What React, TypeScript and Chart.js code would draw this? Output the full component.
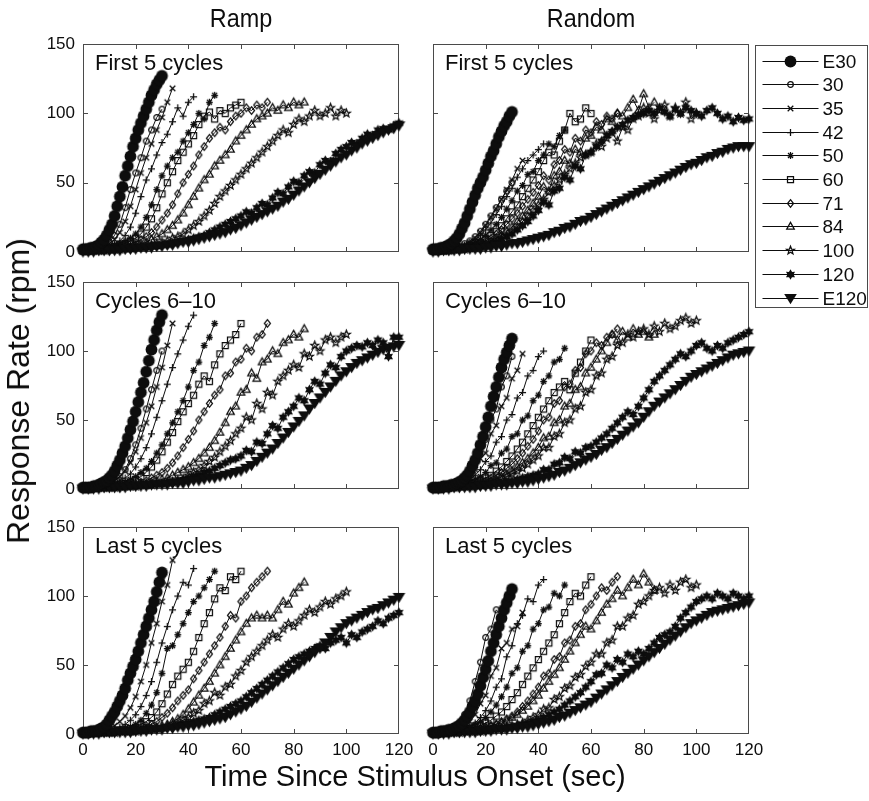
import React, { useEffect, useRef } from 'react';
import { Chart, registerables } from 'chart.js';

Chart.register(...registerables);

// ---------- labels / ticks ----------
const SERIES_LABELS = ['E30', '30', '35', '42', '50', '60', '71', '84', '100', '120', 'E120'];
const MARKERS = ['bigCircle', 'circle', 'x', 'plus', 'asterisk', 'square', 'diamond', 'triangle', 'pentagram', 'hexagram', 'bigTriangleDown'];
const TIME_STEPS = [1, 2, 2, 2, 2, 2, 2, 2, 2, 2, 2]; // seconds between bins
const X_TICKS = [0, 20, 40, 60, 80, 100, 120];
const Y_TICKS = [0, 50, 100, 150];
const COLUMN_TITLES = ['Ramp', 'Random'];
const PANEL_LABELS = ['First 5 cycles', 'Cycles 6–10', 'Last 5 cycles'];
const X_TITLE = 'Time Since Stimulus Onset (sec)';
const Y_TITLE = 'Response Rate (rpm)';

// ---------- Ramp, first 5 cycles ----------
const rfE30 = [2,2,2,3,3,4,5,7,9,12,16,20,26,33,40,47,55,62,69,76,82,88,93,98,103,108,113,117,121,124,127];
const rf30 = [1,2,2,3,5,7,12,20,32,45,57,68,80,88,97,103];
const rf35 = [1,1,2,3,4,6,9,14,22,33,45,57,68,78,88,97,108,118];
const rf42 = [1,1,2,2,3,4,6,8,12,18,28,40,52,60,70,79,85,94,104,98,108,112];
const rf50 = [1,1,2,2,3,4,5,6,8,10,13,18,25,34,45,55,62,68,72,80,86,92,100,96,108,113];
const rf60 = [1,1,2,2,3,3,4,5,6,8,10,13,18,24,32,42,50,58,66,72,78,84,92,98,101,96,102,100,104,106,108];
const rf71 = [1,1,1,2,2,3,3,4,5,6,7,9,11,14,18,23,28,34,42,50,56,62,70,76,82,86,90,88,94,98,100,104,102,106,104,108];
const rf84 = [1,1,1,1,2,2,3,3,4,4,5,6,7,9,11,13,16,19,23,28,34,40,46,52,56,62,66,70,74,80,84,88,92,96,98,100,104,102,106,104,108,106,108];
const rf100 = [1,1,1,1,1,2,2,2,3,3,4,4,5,5,6,7,8,10,11,13,16,19,22,26,30,35,40,44,48,52,56,60,64,68,72,76,80,84,88,86,92,96,94,98,102,98,100,104,98,102,100];
const rf120 = [1,1,1,1,1,1,2,2,2,2,3,3,3,4,4,5,5,6,7,8,9,10,11,12,14,16,18,20,22,24,26,29,28,32,35,34,39,43,42,47,51,50,55,58,57,63,66,65,71,74,76,79,78,82,85,84,88,89,88,91,93];
const rfE120 = [0,0,0,1,1,1,1,1,2,2,2,3,3,3,4,4,5,5,6,7,7,8,9,10,11,12,13,14,16,17,19,21,23,25,27,29,31,33,36,38,41,44,47,50,53,56,59,62,65,68,70,73,75,78,80,82,84,86,88,89,91];

// ---------- Random, first 5 cycles ----------
const xfE30 = [2,2,2,3,3,4,5,6,8,10,13,17,21,26,31,36,41,46,50,54,59,64,69,73,78,83,87,91,94,98,101];
const xf30 = [1,1,2,2,3,4,6,8,11,15,20,26,32,38,44,50];
const xf35 = [1,1,2,2,3,4,5,7,10,14,19,25,31,38,45,52,60,66];
const xf42 = [1,1,2,2,3,4,5,7,9,12,16,21,27,33,40,46,54,60,66,70,74,78];
const xf50 = [1,1,1,2,2,3,4,5,7,9,12,16,20,25,31,37,44,48,56,58,66,70,78,76,84,88];
const xf60 = [1,1,1,2,2,3,3,4,5,7,9,12,15,19,24,29,34,40,46,52,58,66,72,70,80,88,100,94,96,104,100];
const xf71 = [1,1,1,2,2,3,3,4,5,6,8,10,13,16,20,24,28,33,38,43,48,55,52,63,66,74,72,82,80,88,86,94,92,98,96,100];
const xf84 = [1,1,1,1,2,2,3,3,4,5,6,8,10,12,15,18,22,26,30,35,40,47,44,55,58,66,64,74,72,82,84,90,88,96,94,100,98,104,110,102,114,104,108];
const xf100 = [1,1,1,1,2,2,2,3,3,4,5,6,8,10,12,15,18,22,26,30,34,38,43,48,52,56,60,64,68,70,72,78,76,82,86,80,90,88,96,98,104,100,96,102,106,98,104,100,108,96,100];
const xf120 = [1,1,1,1,2,2,2,3,3,4,5,6,7,9,11,13,16,19,22,26,30,36,34,44,46,54,52,62,60,70,72,76,80,84,87,90,92,95,97,99,100,102,100,104,101,98,103,100,104,102,100,98,102,104,100,96,98,94,97,95,96];
const xfE120 = [0,0,1,1,1,1,2,2,2,2,3,3,4,4,5,6,6,7,8,9,10,11,12,14,15,17,18,20,22,23,25,27,29,31,33,35,37,39,41,43,45,47,49,51,53,55,57,59,61,63,64,66,68,69,71,72,74,75,76,76,76];

// ---------- Ramp, cycles 6-10 ----------
const rmE30 = [1,1,1,1,2,2,3,4,5,6,8,10,13,17,21,26,31,37,43,49,56,63,70,77,85,93,101,108,115,121,126];
const rm30 = [1,1,1,2,3,4,6,9,14,22,32,44,58,72,86,100];
const rm35 = [1,1,1,2,3,4,6,9,13,19,27,37,48,60,74,88,104,120];
const rm42 = [1,1,1,2,2,3,4,6,8,11,16,22,30,40,52,64,76,88,98,108,118,126];
const rm50 = [1,1,1,1,2,2,3,4,5,7,9,12,15,20,26,32,40,48,56,64,74,86,92,104,110,120];
const rm60 = [1,1,1,1,2,2,3,3,4,5,7,9,12,16,21,27,34,41,49,56,62,68,76,82,78,90,98,104,108,112,120];
const rm71 = [1,1,1,1,1,2,2,2,3,3,4,5,6,8,10,12,15,19,24,30,36,42,50,56,62,68,72,82,84,92,94,102,100,110,112,120];
const rm84 = [1,1,1,1,1,1,2,2,2,3,3,4,4,5,6,7,8,10,12,14,16,19,22,26,30,35,41,48,56,60,70,72,84,80,92,94,100,98,106,108,112,110,116];
const rm100 = [1,1,1,1,1,1,1,2,2,2,2,3,3,3,4,4,5,5,6,7,10,12,14,17,20,23,27,31,35,40,44,52,50,62,58,70,68,78,82,86,90,88,98,96,104,100,108,110,106,110,112];
const rm120 = [1,1,1,1,1,1,1,1,2,2,2,3,3,3,4,4,5,5,6,7,8,9,10,12,13,15,17,19,21,22,24,28,27,34,33,40,46,44,52,56,60,66,64,72,78,76,84,90,88,96,100,102,104,103,106,104,108,106,96,110,110];
const rmE120 = [0,0,0,0,1,1,1,1,1,2,2,2,2,3,3,3,3,4,4,4,5,6,6,7,8,8,9,10,11,12,13,15,17,20,23,26,29,33,37,41,45,49,53,58,62,66,70,74,78,82,85,88,91,93,95,97,99,101,102,103,104];

// ---------- Random, cycles 6-10 ----------
const xmE30 = [1,1,1,1,2,2,2,3,3,4,5,6,8,10,13,17,21,26,32,38,45,52,60,67,74,81,88,94,99,104,109];
const xm30 = [1,1,2,3,4,6,9,14,20,30,36,50,58,74,82,96];
const xm35 = [1,1,2,2,3,5,7,10,14,22,26,40,46,60,66,80,86,98];
const xm42 = [1,1,1,2,2,3,5,7,10,14,20,24,34,38,50,54,66,70,82,86,96,100];
const xm50 = [1,1,1,2,2,3,4,5,7,9,12,17,19,26,29,38,40,50,53,64,68,78,82,92,94,102];
const xm60 = [1,1,1,2,2,3,3,4,5,6,8,10,13,16,20,24,29,34,40,46,52,58,64,70,74,78,72,84,92,100,108];
const xm71 = [1,1,1,2,2,2,3,3,4,5,6,8,10,12,15,18,22,26,31,36,42,50,52,62,64,74,76,86,88,98,100,106,104,110,112,116];
const xm84 = [1,1,1,1,2,2,2,3,3,4,5,6,7,9,11,13,16,19,22,26,30,37,38,48,50,60,62,72,74,84,88,94,100,106,112,108,114,110,116,112,114,110,112];
const xm100 = [1,1,1,1,1,2,2,2,3,3,4,5,6,7,9,11,13,15,18,21,24,30,30,38,40,48,50,58,60,70,72,82,84,94,96,104,106,112,110,114,116,112,118,114,120,116,118,122,124,120,122];
const xm120 = [1,1,1,1,1,1,2,2,2,2,3,3,4,4,5,6,7,8,9,10,11,14,14,18,19,23,22,27,26,30,31,34,37,40,44,48,52,56,54,60,66,72,78,82,86,90,94,98,96,100,104,106,102,100,104,102,106,108,110,112,114];
const xmE120 = [0,0,0,0,1,1,1,1,1,2,2,2,3,3,3,4,4,5,5,6,7,8,9,10,12,13,15,17,19,21,23,25,28,30,33,36,39,42,45,48,52,56,60,63,66,69,72,75,78,81,83,85,87,89,91,93,95,97,98,99,100];

// ---------- Ramp, last 5 cycles ----------
const rlE30 = [1,1,1,2,2,2,3,4,5,7,10,13,16,20,24,28,33,39,44,49,54,60,66,72,78,84,90,96,103,110,117];
const rl30 = [1,1,2,3,5,8,14,22,32,44,56,68,80,92,104,114];
const rl35 = [1,1,1,2,3,4,6,9,13,19,27,38,50,66,80,96,108,126];
const rl42 = [1,1,1,2,2,3,4,5,7,10,14,20,28,38,52,66,78,90,100,110,108,120];
const rl50 = [1,1,1,1,2,2,3,3,4,5,7,10,15,21,30,44,62,64,72,80,88,96,100,106,112,118];
const rl60 = [1,1,1,1,2,2,2,3,3,4,5,7,9,12,16,22,29,36,42,47,52,60,70,80,88,98,106,104,114,112,118];
const rl71 = [1,1,1,1,1,2,2,2,3,3,4,5,6,7,9,12,15,19,24,28,32,40,46,52,58,64,70,78,86,84,96,100,106,110,114,118];
const rl84 = [1,1,1,1,1,1,2,2,2,2,3,3,4,4,5,6,7,9,11,14,18,23,28,33,38,44,50,56,62,68,74,80,84,86,84,86,84,90,96,94,102,106,110];
const rl100 = [1,1,1,1,1,1,1,2,2,2,2,3,3,4,4,5,6,7,8,10,12,15,17,22,24,30,28,34,36,42,46,52,56,60,64,68,72,70,76,80,78,82,86,90,88,92,96,94,98,100,103];
const rl120 = [1,1,1,1,1,1,1,2,2,2,2,3,3,3,4,4,5,5,6,7,8,9,10,11,12,14,16,18,20,22,24,27,30,33,36,39,42,45,48,51,54,56,58,60,62,64,62,66,68,70,66,72,70,74,76,78,82,80,84,86,88];
const rlE120 = [0,0,0,0,1,1,1,1,1,1,2,2,2,3,3,3,4,4,5,5,6,6,7,8,9,10,11,12,14,16,18,20,23,26,29,32,35,38,41,44,47,50,53,56,59,62,66,70,74,77,80,82,84,86,88,90,91,93,95,97,99];

// ---------- Random, last 5 cycles ----------
const xlE30 = [1,1,1,2,2,2,3,3,4,5,6,8,10,13,16,20,24,29,35,41,47,53,60,66,72,78,84,90,95,100,105];
const xl30 = [1,1,2,3,5,8,14,24,38,52,70,76,90,86,98,100];
const xl35 = [1,1,2,2,3,4,6,9,14,22,28,42,48,62,66,76,78,88];
const xl42 = [1,1,1,2,2,3,4,6,8,12,17,24,34,40,56,64,80,86,98,96,108,112];
const xl50 = [1,1,1,2,2,3,4,5,7,9,12,16,21,27,34,44,48,60,64,76,80,90,92,102,100,108];
const xl60 = [1,1,1,2,2,3,3,4,5,6,8,10,13,16,20,25,30,36,42,48,54,60,66,72,80,88,96,102,100,108,114];
const xl71 = [1,1,1,1,2,2,2,3,3,4,5,6,7,9,11,13,16,20,24,29,34,42,44,54,56,66,68,78,80,90,94,100,106,104,110,114];
const xl84 = [1,1,1,1,2,2,2,3,3,4,5,6,7,8,10,12,14,17,20,24,28,33,38,43,48,54,60,66,72,78,76,82,88,94,98,104,100,106,112,108,116,110,104];
const xl100 = [1,1,1,1,1,1,2,2,2,2,3,3,4,4,5,6,7,8,10,12,14,18,19,25,27,33,35,41,43,49,52,58,58,66,68,78,78,84,86,94,96,100,104,106,102,108,104,110,112,106,108];
const xl120 = [1,1,1,1,1,1,2,2,2,2,3,3,4,4,5,5,6,7,8,9,10,12,14,16,18,21,24,27,30,34,38,43,44,50,48,54,52,58,56,60,58,62,66,70,72,74,78,84,88,92,96,98,100,98,102,100,98,102,100,98,100];
const xlE120 = [0,0,0,0,1,1,1,1,1,2,2,2,3,3,3,4,4,5,5,6,7,8,9,10,12,13,15,17,19,21,23,26,29,32,35,38,41,44,47,50,53,56,59,62,65,68,71,74,77,80,82,84,86,88,89,90,91,92,93,94,95];

const rampFirst = [rfE30, rf30, rf35, rf42, rf50, rf60, rf71, rf84, rf100, rf120, rfE120];
const randomFirst = [xfE30, xf30, xf35, xf42, xf50, xf60, xf71, xf84, xf100, xf120, xfE120];
const rampMiddle = [rmE30, rm30, rm35, rm42, rm50, rm60, rm71, rm84, rm100, rm120, rmE120];
const randomMiddle = [xmE30, xm30, xm35, xm42, xm50, xm60, xm71, xm84, xm100, xm120, xmE120];
const rampLast = [rlE30, rl30, rl35, rl42, rl50, rl60, rl71, rl84, rl100, rl120, rlE120];
const randomLast = [xlE30, xl30, xl35, xl42, xl50, xl60, xl71, xl84, xl100, xl120, xlE120];

const PANELS = [
  { row: 0, col: 0, series: rampFirst },
  { row: 0, col: 1, series: randomFirst },
  { row: 1, col: 0, series: rampMiddle },
  { row: 1, col: 1, series: randomMiddle },
  { row: 2, col: 0, series: rampLast },
  { row: 2, col: 1, series: randomLast },
];

// ---------- layout / style ----------
const FONT = '"Liberation Sans", Arial, Helvetica, sans-serif';
const INK = '#0d0d0d';
const FRAME = '#4a4a4a';
const COL_LEFT = [83, 433];
const PLOT_W = 316;
const ROW_TOP = [44, 282, 527];
const PLOT_H = [208, 207, 207];
const Y_AXIS_W = [83, 30];
const PAD_TOP = 12;
const X_AXIS_H = [25, 25, 45];
const LEGEND_SPACE = 120;

function geom(row: number, col: number) {
  const isLegendHost = row === 0 && col === 1;
  const padRight = isLegendHost ? LEGEND_SPACE : 22;
  const padBottom = isLegendHost ? 45 : 0;
  const left = COL_LEFT[col] - Y_AXIS_W[col];
  const top = ROW_TOP[row] - PAD_TOP;
  const w = Y_AXIS_W[col] + PLOT_W + padRight;
  const h = PAD_TOP + PLOT_H[row] + X_AXIS_H[row] + padBottom;
  return { left, top, w, h, padRight, padBottom };
}

function starPath(g: CanvasRenderingContext2D, cx: number, cy: number, n: number, ro: number, ri: number) {
  for (let k = 0; k < n * 2; k++) {
    const r = k % 2 === 0 ? ro : ri;
    const a = -Math.PI / 2 + (k * Math.PI) / n;
    const px = cx + r * Math.cos(a);
    const py = cy + r * Math.sin(a);
    if (k === 0) g.moveTo(px, py); else g.lineTo(px, py);
  }
  g.closePath();
}

function drawMarker(g: CanvasRenderingContext2D, kind: string, cx: number, cy: number) {
  g.strokeStyle = INK;
  g.fillStyle = INK;
  g.lineWidth = 1.25;
  g.beginPath();
  switch (kind) {
    case 'bigCircle':
      g.arc(cx, cy, 5.9, 0, Math.PI * 2); g.fill(); break;
    case 'circle':
      g.arc(cx, cy, 2.8, 0, Math.PI * 2); g.stroke(); break;
    case 'x':
      g.moveTo(cx - 2.8, cy - 2.8); g.lineTo(cx + 2.8, cy + 2.8);
      g.moveTo(cx + 2.8, cy - 2.8); g.lineTo(cx - 2.8, cy + 2.8); g.stroke(); break;
    case 'plus':
      g.moveTo(cx - 3.5, cy); g.lineTo(cx + 3.5, cy);
      g.moveTo(cx, cy - 3.5); g.lineTo(cx, cy + 3.5); g.stroke(); break;
    case 'asterisk':
      g.moveTo(cx - 3.4, cy); g.lineTo(cx + 3.4, cy);
      g.moveTo(cx, cy - 3.4); g.lineTo(cx, cy + 3.4);
      g.moveTo(cx - 2.5, cy - 2.5); g.lineTo(cx + 2.5, cy + 2.5);
      g.moveTo(cx + 2.5, cy - 2.5); g.lineTo(cx - 2.5, cy + 2.5); g.stroke(); break;
    case 'square':
      g.rect(cx - 3, cy - 3, 6, 6); g.stroke(); break;
    case 'diamond':
      g.moveTo(cx, cy - 3.8); g.lineTo(cx + 3, cy); g.lineTo(cx, cy + 3.8); g.lineTo(cx - 3, cy); g.closePath(); g.stroke(); break;
    case 'triangle':
      g.moveTo(cx, cy - 4.1); g.lineTo(cx + 3.8, cy + 2.7); g.lineTo(cx - 3.8, cy + 2.7); g.closePath(); g.stroke(); break;
    case 'pentagram':
      starPath(g, cx, cy, 5, 4.2, 1.8); g.stroke(); break;
    case 'hexagram':
      starPath(g, cx, cy, 6, 4.0, 2.3); g.fill(); g.stroke(); break;
    case 'bigTriangleDown':
      g.moveTo(cx - 6.3, cy - 4.6); g.lineTo(cx + 6.3, cy - 4.6); g.lineTo(cx, cy + 5.8); g.closePath(); g.fill(); break;
  }
}

function makeMarker(kind: string): HTMLCanvasElement {
  const c = document.createElement('canvas');
  c.width = 15; c.height = 15;
  const g = c.getContext('2d');
  if (g) drawMarker(g, kind, 7.5, 7.5);
  return c;
}

function zeroPadding(s: any) {
  s.paddingLeft = 0;
  s.paddingRight = 0;
  s.paddingTop = 0;
  s.paddingBottom = 0;
}

export default function App() {
  const refs = useRef<(HTMLCanvasElement | null)[]>([]);

  useEffect(() => {
    const markers = MARKERS.map(makeMarker);
    const charts = PANELS.map((p, i) => {
      const canvas = refs.current[i] as HTMLCanvasElement;
      const g = geom(p.row, p.col);
      const label = PANEL_LABELS[p.row];
      const showLegend = p.row === 0 && p.col === 1;

      const framePlugin = {
        id: 'panelFrame',
        beforeDatasetsDraw(chart: any) {
          const { ctx, chartArea: a, scales } = chart;
          ctx.save();
          ctx.strokeStyle = FRAME;
          ctx.lineWidth = 1;
          ctx.strokeRect(a.left + 0.5, a.top + 0.5, a.right - a.left - 1, a.bottom - a.top - 1);
          const tl = 5;
          ctx.beginPath();
          X_TICKS.slice(1, -1).forEach((v) => {
            const x = Math.round(scales.x.getPixelForValue(v)) + 0.5;
            ctx.moveTo(x, a.bottom); ctx.lineTo(x, a.bottom - tl);
            ctx.moveTo(x, a.top); ctx.lineTo(x, a.top + tl);
          });
          Y_TICKS.slice(1, -1).forEach((v) => {
            const y = Math.round(scales.y.getPixelForValue(v)) + 0.5;
            ctx.moveTo(a.left, y); ctx.lineTo(a.left + tl, y);
            ctx.moveTo(a.right, y); ctx.lineTo(a.right - tl, y);
          });
          ctx.stroke();
          ctx.restore();
        },
        afterDatasetsDraw(chart: any) {
          const { ctx, chartArea: a } = chart;
          ctx.save();
          ctx.font = `22px ${FONT}`;
          ctx.fillStyle = INK;
          ctx.textBaseline = 'alphabetic';
          ctx.textAlign = 'left';
          ctx.fillText(label, a.left + 12, a.top + 26);
          ctx.restore();
        },
      };

      const legendPlugin = {
        id: 'boxLegend',
        afterDraw(chart: any) {
          if (!showLegend) return;
          const { ctx, chartArea: a } = chart;
          const left = a.right + 6.5;
          const top = a.top + 1.5;
          const w = 112;
          const h = 262;
          ctx.save();
          ctx.fillStyle = '#fff';
          ctx.fillRect(left, top, w, h);
          ctx.strokeStyle = FRAME;
          ctx.lineWidth = 1;
          ctx.strokeRect(left, top, w, h);
          ctx.font = `19px ${FONT}`;
          ctx.textBaseline = 'middle';
          ctx.textAlign = 'left';
          SERIES_LABELS.forEach((lab, k) => {
            const y = Math.round(top + 15 + k * 23.7) + 0.5;
            ctx.beginPath();
            ctx.strokeStyle = INK;
            ctx.lineWidth = 1;
            ctx.moveTo(left + 7, y);
            ctx.lineTo(left + 63, y);
            ctx.stroke();
            const m = markers[k];
            ctx.drawImage(m, left + 35 - m.width / 2, y - m.height / 2);
            ctx.fillStyle = INK;
            ctx.fillText(lab, left + 67, y + 1);
          });
          ctx.restore();
        },
      };

      const datasets = p.series.map((vals, k) => ({
        label: SERIES_LABELS[k],
        data: vals.map((v, j) => ({ x: j * TIME_STEPS[k], y: v })),
        borderColor: INK,
        borderWidth: 1,
        pointStyle: markers[k],
        pointRadius: 3,
        pointHoverRadius: 3,
        tension: 0,
        fill: false,
        clip: false,
        order: k === 0 || k === SERIES_LABELS.length - 1 ? 0 : 1,
      }));

      const tickFont = { family: FONT, size: 17 };

      return new Chart(canvas, {
        type: 'line',
        data: { datasets },
        options: {
          responsive: false,
          maintainAspectRatio: false,
          animation: false,
          devicePixelRatio: 1,
          events: [],
          layout: { padding: { top: PAD_TOP, right: g.padRight, left: 0, bottom: g.padBottom } },
          plugins: { legend: { display: false }, tooltip: { enabled: false }, title: { display: false } },
          scales: {
            x: {
              type: 'linear',
              min: X_TICKS[0],
              max: X_TICKS[X_TICKS.length - 1],
              afterBuildTicks: (s: any) => { s.ticks = X_TICKS.map((v) => ({ value: v })); },
              ticks: { display: p.row === 2, font: tickFont, color: INK, padding: 6, maxRotation: 0, autoSkip: false },
              grid: { display: false, drawTicks: false },
              border: { display: false },
              afterFit: (s: any) => { s.height = X_AXIS_H[p.row]; zeroPadding(s); },
            },
            y: {
              type: 'linear',
              min: Y_TICKS[0],
              max: Y_TICKS[Y_TICKS.length - 1],
              afterBuildTicks: (s: any) => { s.ticks = Y_TICKS.map((v) => ({ value: v })); },
              ticks: { display: p.col === 0, font: tickFont, color: INK, padding: 8, autoSkip: false },
              grid: { display: false, drawTicks: false },
              border: { display: false },
              afterFit: (s: any) => { s.width = Y_AXIS_W[p.col]; zeroPadding(s); },
            },
          },
        },
        plugins: [framePlugin, legendPlugin],
      } as any);
    });
    return () => charts.forEach((c) => c.destroy());
  }, []);

  return (
    <div style={{ position: 'absolute', left: 0, top: 0, width: 869, height: 801, background: '#fff', overflow: 'hidden', fontFamily: FONT, color: INK }}>
      {PANELS.map((p, i) => {
        const g = geom(p.row, p.col);
        return (
          <canvas
            key={i}
            ref={(el) => { refs.current[i] = el; }}
            width={g.w}
            height={g.h}
            style={{ position: 'absolute', left: g.left, top: g.top, width: g.w, height: g.h }}
          />
        );
      })}
      {COLUMN_TITLES.map((t, i) => (
        <div key={t} style={{ position: 'absolute', left: COL_LEFT[i] + PLOT_W / 2, top: 18, transform: 'translate(-50%, -50%) scaleX(0.9)', fontSize: 26, whiteSpace: 'nowrap', lineHeight: 1 }}>{t}</div>
      ))}
      <div style={{ position: 'absolute', left: 18, top: 391, transform: 'translate(-50%, -50%) rotate(-90deg)', fontSize: 32, whiteSpace: 'nowrap', lineHeight: 1 }}>{Y_TITLE}</div>
      <div style={{ position: 'absolute', left: 415, top: 776, transform: 'translate(-50%, -50%)', fontSize: 29, whiteSpace: 'nowrap', lineHeight: 1 }}>{X_TITLE}</div>
    </div>
  );
}
